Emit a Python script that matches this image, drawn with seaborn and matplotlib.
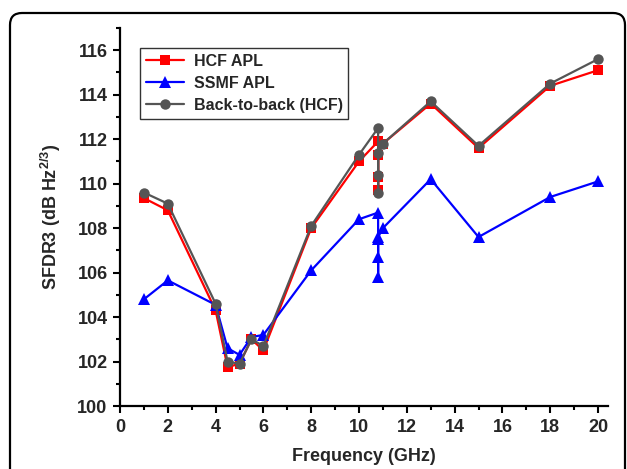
import matplotlib
matplotlib.use("Agg")
import matplotlib.pyplot as plt
import seaborn as sns
import numpy as np
import pandas as pd
from matplotlib.patches import FancyBboxPatch
from matplotlib.ticker import MultipleLocator

# Data
freq = [1, 2, 4, 4.5, 5, 5.5, 6, 8, 10, 10.8, 10.8, 10.8, 10.8, 11, 13, 15, 18, 20]
hcf_apl = [109.35, 108.8, 104.3, 101.75, 101.9, 103.0, 102.5, 108.0, 111.0,
           111.9, 110.3, 109.7, 111.3, 111.8, 113.6, 111.6, 114.4, 115.1]
b2b = [109.6, 109.1, 104.6, 102.0, 101.9, 103.0, 102.7, 108.1, 111.3,
       112.5, 110.4, 109.6, 111.4, 111.8, 113.7, 111.7, 114.5, 115.6]

freq_ssmf = [1, 2, 4, 4.5, 5, 5.5, 6, 8, 10, 10.8, 10.8, 10.8, 10.8, 10.8, 11, 13, 15, 18, 20]
ssmf_apl = [104.8, 105.65, 104.55, 102.6, 102.3, 103.1, 103.2, 106.1, 108.4,
            108.7, 107.5, 106.7, 105.8, 107.6, 108.0, 110.2, 107.6, 109.4, 110.1]

labels = ["HCF APL", "SSMF APL", "Back-to-back (HCF)"]
xticks = list(range(0, 21, 2))
yticks = list(range(100, 117, 2))

sns.set_style("ticks")
plt.rcParams["font.family"] = ["Liberation Sans", "DejaVu Sans"]
plt.rcParams["font.weight"] = "bold"
plt.rcParams["mathtext.fontset"] = "custom"
plt.rcParams["mathtext.rm"] = "Liberation Sans:bold"
plt.rcParams["mathtext.bf"] = "Liberation Sans:bold"
plt.rcParams["mathtext.it"] = "Liberation Sans:bold"

fig = plt.figure(figsize=(6.27, 4.69), dpi=100)
ax = fig.add_axes([0.1914, 0.1343, 0.969 - 0.1914, 0.9403 - 0.1343])

lw = 1.6
sns.lineplot(x=freq, y=hcf_apl, ax=ax, color="#ff0000", marker="s", markersize=6.5,
             markeredgewidth=0, linewidth=lw, estimator=None, sort=False, label=labels[0])
sns.lineplot(x=freq_ssmf, y=ssmf_apl, ax=ax, color="#0000ff", marker="^", markersize=8.5,
             markeredgewidth=0, linewidth=lw, estimator=None, sort=False, label=labels[1])
sns.lineplot(x=freq, y=b2b, ax=ax, color="#555555", marker="o", markersize=7.5,
             markeredgewidth=0, linewidth=lw, estimator=None, sort=False, label=labels[2])

ax.set_xlim(0, 20.4)
ax.set_ylim(100, 117)
ax.set_xticks(xticks)
ax.set_yticks(yticks)
ax.xaxis.set_minor_locator(MultipleLocator(1))
ax.yaxis.set_minor_locator(MultipleLocator(1))
ax.tick_params(which="major", length=5, width=1.5, labelsize=13, color="black", pad=4)
ax.tick_params(which="minor", length=3, width=1.5, color="black")
for lab in ax.get_xticklabels() + ax.get_yticklabels():
    lab.set_fontweight("bold")
for s in ["top", "right"]:
    ax.spines[s].set_visible(False)
for s in ["left", "bottom"]:
    ax.spines[s].set_linewidth(1.6)
    ax.spines[s].set_color("black")

ax.set_xlabel("Frequency (GHz)", fontsize=13, fontweight="bold", labelpad=9)
ax.set_ylabel(r"SFDR3 (dB Hz$^{2/3}$)", fontsize=13, fontweight="bold", labelpad=10)

leg = ax.legend(loc="upper left", bbox_to_anchor=(0.041, 0.947), borderaxespad=0,
                fancybox=False, frameon=True, edgecolor="black", fontsize=11.5,
                handlelength=2.4, labelspacing=0.45, borderpad=0.35, handletextpad=0.6)
leg.get_frame().set_linewidth(1.0)
for t in leg.get_texts():
    t.set_fontweight("bold")

border = FancyBboxPatch((0.1, -0.5), 6.15, 5.06, boxstyle="round,pad=0,rounding_size=0.12",
                        transform=fig.dpi_scale_trans, fill=False, edgecolor="black",
                        linewidth=1.6, clip_on=False)
fig.patches.append(border)

fig.savefig("out.png", dpi=100)
